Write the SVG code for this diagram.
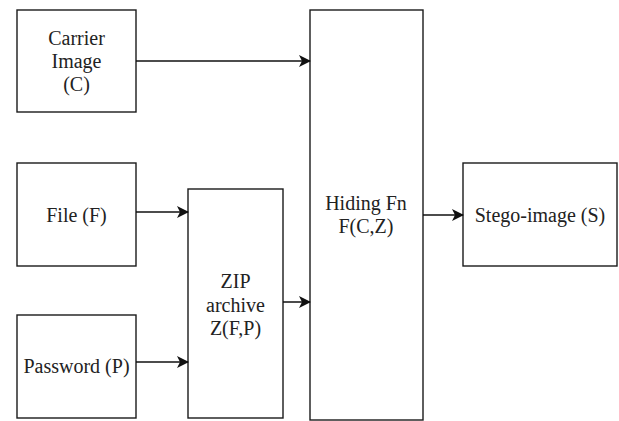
<svg xmlns="http://www.w3.org/2000/svg" width="619" height="421" viewBox="0 0 619 421">
<style>
.box{fill:#fff;stroke:#1a1a1a;stroke-width:1.4}
.lbl{font-size:20px;fill:#222;text-anchor:middle}
.edge{fill:none;stroke:#111;stroke-width:1.5;marker-end:url(#arr)}
</style>
<defs>
<marker id="arr" viewBox="0 0 12 12" refX="11" refY="6" markerWidth="12" markerHeight="12" markerUnits="userSpaceOnUse" orient="auto">
<path d="M0,0 L12,6 L0,12 L3,6 Z" fill="#111"/>
</marker>
</defs>
<g font-family="Liberation Serif, DejaVu Serif, Times New Roman, serif">
<g id="carrier"><rect class="box" x="17" y="10" width="119" height="102"/>
<text class="lbl" x="76.5" y="45">Carrier</text><text class="lbl" x="76.5" y="68">Image</text><text class="lbl" x="76.5" y="91">(C)</text></g>
<g id="file"><rect class="box" x="17" y="163" width="119" height="103"/>
<text class="lbl" x="76.5" y="222">File (F)</text></g>
<g id="password"><rect class="box" x="17" y="315" width="119" height="103"/>
<text class="lbl" x="76.5" y="373">Password (P)</text></g>
<g id="zip"><rect class="box" x="188" y="189" width="95" height="229"/>
<text class="lbl" x="235.5" y="288">ZIP</text><text class="lbl" x="235.5" y="312">archive</text><text class="lbl" x="235.5" y="335">Z(F,P)</text></g>
<g id="hiding"><rect class="box" x="310" y="10" width="113" height="410"/>
<text class="lbl" x="366" y="210">Hiding Fn</text><text class="lbl" x="366" y="233">F(C,Z)</text></g>
<g id="stego"><rect class="box" x="463" y="163" width="154" height="103"/>
<text class="lbl" x="540" y="222">Stego-image (S)</text></g>
</g>
<g id="connectors">
<line class="edge" x1="136" y1="61" x2="310" y2="61"/>
<line class="edge" x1="136" y1="212" x2="188" y2="212"/>
<line class="edge" x1="136" y1="362" x2="188" y2="362"/>
<line class="edge" x1="283" y1="302" x2="310" y2="302"/>
<line class="edge" x1="423" y1="215" x2="463" y2="215"/>
</g>
</svg>
